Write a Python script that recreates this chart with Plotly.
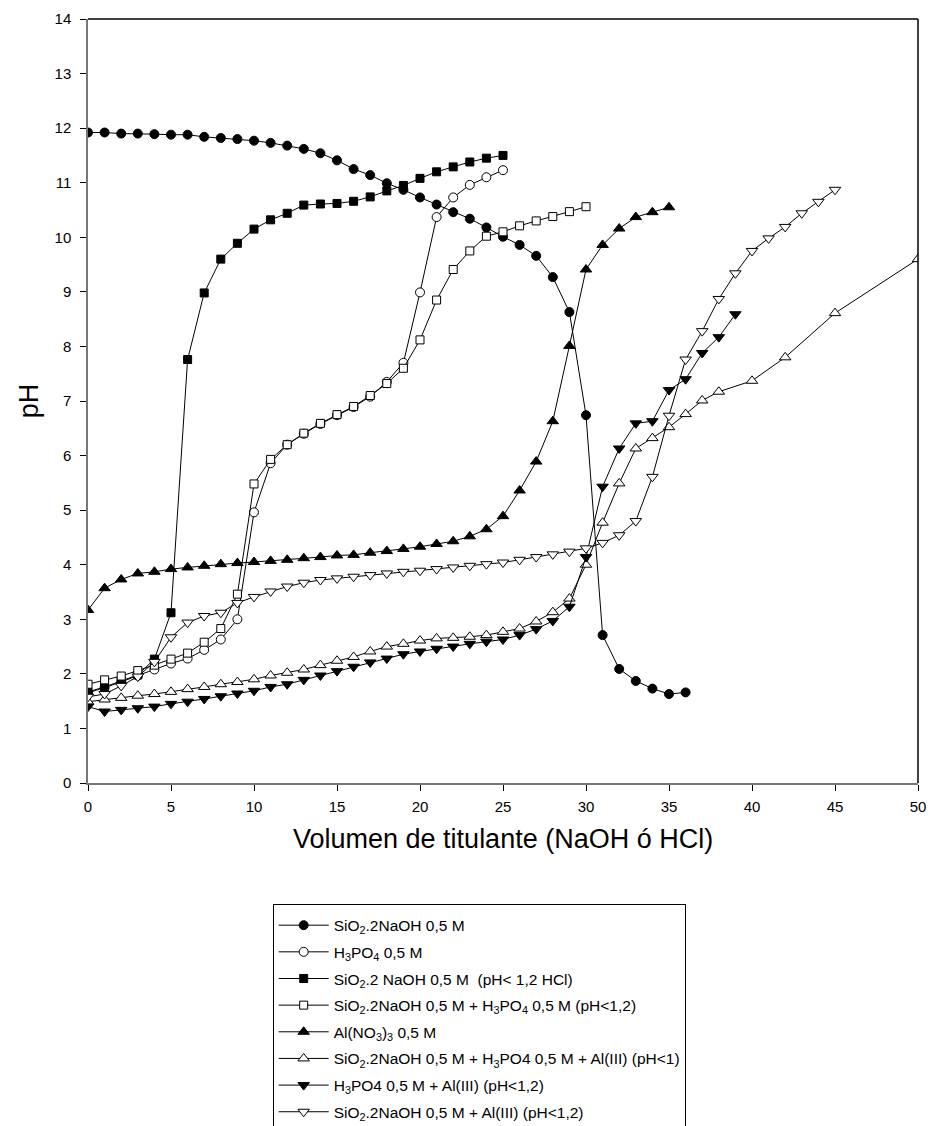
import plotly.graph_objects as go

# ---- data ----
x_sio2 = list(range(0, 37))
y_sio2 = [11.92, 11.92, 11.90, 11.90, 11.89, 11.88, 11.88, 11.84, 11.82, 11.80, 11.77, 11.73, 11.68,
          11.62, 11.54, 11.41, 11.25, 11.14, 10.99, 10.87, 10.73, 10.60, 10.46, 10.34, 10.18, 10.01,
          9.86, 9.66, 9.27, 8.63, 6.74, 2.71, 2.09, 1.87, 1.73, 1.63, 1.66]

x_h3po4 = list(range(0, 26))
y_h3po4 = [1.65, 1.75, 1.85, 1.97, 2.08, 2.19, 2.28, 2.44, 2.63, 3.00, 4.96, 5.86, 6.20, 6.40, 6.58,
           6.74, 6.89, 7.08, 7.35, 7.70, 8.99, 10.37, 10.73, 10.96, 11.10, 11.23]

x_sio2_hcl = list(range(0, 26))
y_sio2_hcl = [1.67, 1.76, 1.87, 1.98, 2.27, 3.12, 7.76, 8.98, 9.60, 9.89, 10.15, 10.32, 10.44, 10.59,
              10.61, 10.62, 10.66, 10.74, 10.85, 10.95, 11.08, 11.20, 11.29, 11.38, 11.45, 11.50]

x_sio2_h3po4 = list(range(0, 31))
y_sio2_h3po4 = [1.81, 1.89, 1.96, 2.06, 2.16, 2.27, 2.38, 2.58, 2.83, 3.46, 5.48, 5.93, 6.20, 6.41,
                6.59, 6.75, 6.90, 7.10, 7.32, 7.60, 8.12, 8.85, 9.41, 9.75, 10.02, 10.10, 10.21,
                10.30, 10.38, 10.47, 10.56]

x_al = list(range(0, 36))
y_al = [3.17, 3.57, 3.73, 3.84, 3.87, 3.92, 3.95, 3.98, 4.01, 4.03, 4.05, 4.07, 4.09, 4.12, 4.14,
        4.17, 4.18, 4.22, 4.25, 4.29, 4.33, 4.38, 4.43, 4.52, 4.65, 4.89, 5.36, 5.89, 6.63, 8.01,
        9.41, 9.86, 10.16, 10.37, 10.46, 10.55]

x_sio2_h3po4_al = list(range(0, 39)) + [40, 42, 45, 50]
y_sio2_h3po4_al = [1.49, 1.53, 1.56, 1.60, 1.63, 1.67, 1.72, 1.76, 1.81, 1.85, 1.90, 1.97, 2.02, 2.08,
                   2.16, 2.24, 2.31, 2.41, 2.50, 2.55, 2.61, 2.65, 2.66, 2.68, 2.71, 2.77, 2.83,
                   2.96, 3.13, 3.38, 4.00, 4.77, 5.49, 6.13, 6.32, 6.52, 6.76, 7.01, 7.17, 7.37,
                   7.80, 8.61, 9.60]

x_h3po4_al = list(range(0, 40))
y_h3po4_al = [1.40, 1.31, 1.34, 1.37, 1.40, 1.45, 1.49, 1.54, 1.59, 1.64, 1.69, 1.76, 1.81, 1.89,
              1.97, 2.05, 2.13, 2.21, 2.28, 2.36, 2.41, 2.46, 2.50, 2.55, 2.59, 2.63, 2.71, 2.82,
              2.97, 3.23, 4.14, 5.43, 6.13, 6.59, 6.63, 7.20, 7.40, 7.88, 8.17, 8.59]

x_sio2_al = list(range(0, 46))
y_sio2_al = [1.58, 1.63, 1.78, 1.95, 2.22, 2.67, 2.94, 3.06, 3.12, 3.30, 3.41, 3.51, 3.60, 3.67,
             3.72, 3.75, 3.78, 3.81, 3.84, 3.87, 3.89, 3.92, 3.95, 3.98, 4.01, 4.04, 4.09, 4.14,
             4.19, 4.24, 4.30, 4.40, 4.54, 4.80, 5.61, 6.73, 7.76, 8.28, 8.87, 9.34, 9.75, 9.98,
             10.19, 10.44, 10.65, 10.87]

x_ticks = list(range(0, 51, 5))
y_ticks = list(range(0, 15))

names = [
    "SiO<sub>2</sub>.2NaOH 0,5 M",
    "H<sub>3</sub>PO<sub>4</sub> 0,5 M",
    "SiO<sub>2</sub>.2 NaOH 0,5 M \u00a0(pH&lt; 1,2 HCl)",
    "SiO<sub>2</sub>.2NaOH 0,5 M + H<sub>3</sub>PO<sub>4</sub> 0,5 M (pH&lt;1,2)",
    "Al(NO<sub>3</sub>)<sub>3</sub> 0,5 M",
    "SiO<sub>2</sub>.2NaOH 0,5 M + H<sub>3</sub>PO4 0,5 M + Al(III) (pH&lt;1)",
    "H<sub>3</sub>PO4 0,5 M + Al(III) (pH&lt;1,2)",
    "SiO<sub>2</sub>.2NaOH 0,5 M + Al(III) (pH&lt;1,2)",
]

series = [
    (x_sio2, y_sio2, "circle", "black", 9),
    (x_h3po4, y_h3po4, "circle", "white", 9),
    (x_sio2_hcl, y_sio2_hcl, "square", "black", 8),
    (x_sio2_h3po4, y_sio2_h3po4, "square", "white", 8),
    (x_al, y_al, "triangle-up", "black", 10),
    (x_sio2_h3po4_al, y_sio2_h3po4_al, "triangle-up", "white", 10),
    (x_h3po4_al, y_h3po4_al, "triangle-down", "black", 10),
    (x_sio2_al, y_sio2_al, "triangle-down", "white", 10),
]

FONT = "Liberation Sans, Arial, sans-serif"

fig = go.Figure()
for i, ((xs, ys, sym, fill, sz), nm) in enumerate(zip(series, names)):
    fig.add_trace(go.Scatter(
        x=xs, y=ys, mode="lines+markers", name=nm, legendgroup=f"g{i}",
        line=dict(color="black", width=1),
        marker=dict(symbol=sym, size=sz, color=fill, line=dict(color="black", width=1)),
    ))

fig.update_layout(
    width=929, height=1126,
    margin=dict(l=88, r=11, t=19, b=343, autoexpand=False),
    paper_bgcolor="white", plot_bgcolor="white",
    font=dict(family=FONT, color="black", size=15),
    legend=dict(
        x=0.2225, y=-0.158, xanchor="left", yanchor="top",
        bordercolor="black", borderwidth=1, bgcolor="white",
        font=dict(family=FONT, size=15.5, color="black"),
        tracegroupgap=3.5, traceorder="grouped", itemwidth=50,
        title=dict(text=" ", font=dict(size=3)),
    ),
    showlegend=True,
    annotations=[dict(
        text="Volumen de titulante (NaOH ó HCl)", xref="paper", yref="paper",
        x=0.5, y=-0.0735, xanchor="center", yanchor="middle", showarrow=False,
        font=dict(family=FONT, size=27, color="black"),
    )],
)
fig.update_xaxes(
    range=[0, 50], tickmode="array", tickvals=x_ticks,
    showgrid=False, zeroline=False, showline=True, linecolor="#777777", linewidth=1.5,
    ticks="outside", ticklen=6, tickcolor="black", tickfont=dict(size=15),
    ticklabelstandoff=3, automargin=False,
)
fig.update_yaxes(
    range=[0, 14], tickmode="array", tickvals=y_ticks,
    showgrid=False, zeroline=False, showline=True, linecolor="#777777", linewidth=1.5,
    ticks="outside", ticklen=6, tickcolor="black", tickfont=dict(size=15),
    ticklabelstandoff=6, automargin=False,
    title=dict(text="pH", font=dict(size=27), standoff=8),
)
# top and right frame lines
fig.add_shape(type="line", xref="paper", yref="paper", x0=0, x1=1, y0=1, y1=1,
              line=dict(color="black", width=1.5))
fig.add_shape(type="line", xref="paper", yref="paper", x0=1, x1=1, y0=0, y1=1,
              line=dict(color="black", width=1.5))

fig.write_html("out.html")
